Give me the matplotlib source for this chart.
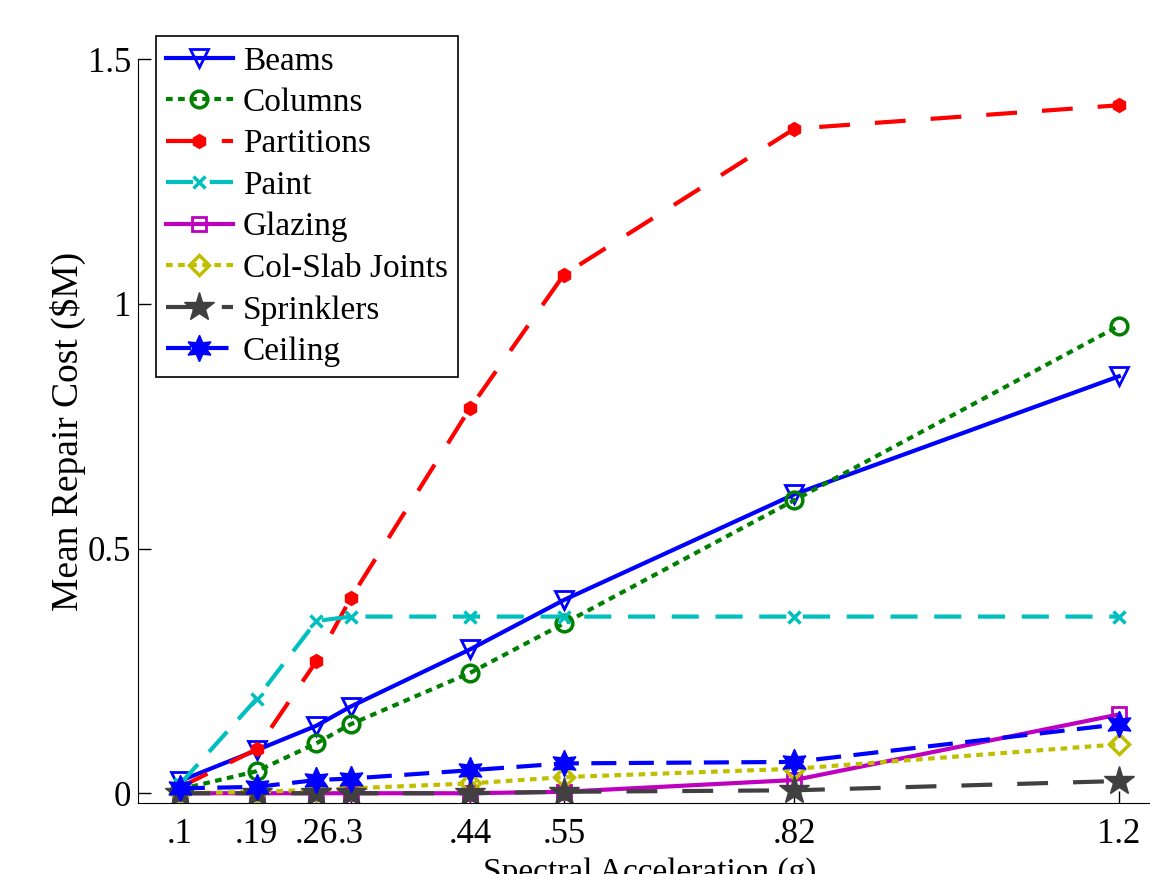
import matplotlib
matplotlib.use("Agg")
import matplotlib.pyplot as plt

# spectral acceleration levels (g)
sa = [0.1, 0.19, 0.26, 0.3, 0.44, 0.55, 0.82, 1.2]
sa_labels = [".1", ".19", ".26", ".3", ".44", ".55", ".82", "1.2"]

# mean repair cost ($M) per component
beams = [0.025, 0.088, 0.138, 0.177, 0.294, 0.395, 0.611, 0.852]
columns = [0.008, 0.045, 0.102, 0.141, 0.246, 0.347, 0.599, 0.955]
partitions = [0.012, 0.09, 0.27, 0.398, 0.787, 1.06, 1.358, 1.406]
paint = [0.018, 0.193, 0.352, 0.361, 0.361, 0.361, 0.361, 0.361]
glazing = [0.0, 0.0, 0.0, 0.0, 0.0, 0.003, 0.027, 0.161]
col_slab = [0.0, 0.003, 0.007, 0.01, 0.02, 0.033, 0.05, 0.1]
sprinklers = [0.0, 0.0, 0.0, 0.0, 0.0, 0.003, 0.006, 0.025]
ceiling = [0.01, 0.013, 0.027, 0.03, 0.047, 0.061, 0.064, 0.141]

plt.rcParams['font.family'] = ['Liberation Serif', 'DejaVu Serif']
plt.rcParams['font.size'] = 24

fig = plt.figure(figsize=(11.5, 8.74), dpi=100)
# axes runs off the right edge like the cropped original
ax = fig.add_axes([0.12, 0.0812, 0.89, 0.851])

lw = 3
ax.plot(sa, beams, color='#0000ff', lw=lw, ls='-', marker='v', ms=13, mew=2,
        mfc='none', label='Beams')
ax.plot(sa, columns, color='#008000', lw=lw, dashes=(1.6, 1.3), marker='o', ms=12,
        mew=2.5, mfc='none', label='Columns')
ax.plot(sa, partitions, color='#ff0000', lw=lw, dashes=(7.4, 6), marker='h', ms=10,
        mew=1, label='Partitions')
ax.plot(sa, paint, color='#00bfbf', lw=lw, dashes=(6.5, 4), marker='x', ms=8,
        mew=2.5, label='Paint')
ax.plot(sa, glazing, color='#bf00bf', lw=lw, ls='-', marker='s', ms=10, mew=2,
        mfc='none', label='Glazing')
ax.plot(sa, col_slab, color='#bfbf00', lw=lw, dashes=(1.6, 1.3), marker='D', ms=10,
        mew=2.5, mfc='none', label='Col-Slab Joints')
ax.plot(sa, sprinklers, color='#404040', lw=lw, dashes=(7.4, 6), marker='*', ms=22,
        mew=1, label='Sprinklers')
ax.plot(sa, ceiling, color='#0000ff', lw=lw, dashes=(6, 3), marker=(6, 1, 0), ms=19,
        mew=1, label='Ceiling')

ax.set_xlim(0.051, 1.25)
ax.set_ylim(-0.02, 1.5)
ax.set_xticks(sa)
ax.set_xticklabels(sa_labels)
ax.set_yticks([0, 0.5, 1, 1.5])
ax.set_yticklabels(['0', '0.5', '1', '1.5'])
ax.tick_params(direction='in', length=9, width=1, labelsize=25)
ax.tick_params(axis='x', pad=11)
ax.tick_params(axis='y', pad=5)

ax.spines['top'].set_visible(False)
ax.spines['right'].set_visible(False)

ax.set_xlabel('Spectral Acceleration (g)', fontsize=24, labelpad=4)
ax.set_ylabel('Mean Repair Cost ($M)', fontsize=27, labelpad=1)

leg = ax.legend(loc='upper left', bbox_to_anchor=(156 / 1150, 1 - 36 / 874),
                bbox_transform=fig.transFigure, borderaxespad=0, fancybox=False,
                framealpha=1, edgecolor='black', fontsize=24, handlelength=2.0,
                handletextpad=0.3, labelspacing=0.33, borderpad=0.3)
leg.get_frame().set_linewidth(1.2)

fig.savefig('out.png', dpi=100)
